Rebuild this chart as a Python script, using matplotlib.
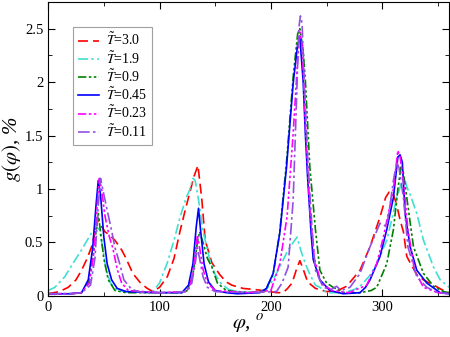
import matplotlib
matplotlib.use("Agg")
import matplotlib.pyplot as plt
from matplotlib.ticker import MultipleLocator

plt.rcParams['font.family'] = ['Liberation Serif', 'DejaVu Serif']
plt.rcParams['mathtext.fontset'] = 'stix'

labels = ["3.0", "1.9", "0.9", "0.45", "0.23", "0.11"]

phi_t30 = [0, 10, 18, 25, 30, 35, 39, 42, 45, 48, 51, 55, 60, 66, 70, 76, 83, 89, 94, 100, 107, 113, 118.5, 123, 127, 131, 134.5, 138, 141, 147, 154, 160, 165, 175, 185, 193, 205, 211, 215, 219, 223, 226, 229, 233, 240, 250, 260, 268, 280, 289, 298, 303, 306, 310, 313, 316, 319, 322, 325, 331, 337, 348, 355, 360]
g_t30 = [0.02, 0.04, 0.08, 0.15, 0.24, 0.35, 0.46, 0.6, 0.72, 0.65, 0.6, 0.57, 0.52, 0.43, 0.35, 0.21, 0.12, 0.07, 0.04, 0.08, 0.18, 0.35, 0.61, 0.8, 0.96, 1.12, 1.22, 0.9, 0.52, 0.31, 0.2, 0.13, 0.1, 0.07, 0.06, 0.05, 0.03, 0.03, 0.07, 0.12, 0.25, 0.33, 0.25, 0.13, 0.07, 0.04, 0.05, 0.09, 0.24, 0.46, 0.74, 0.92, 0.97, 0.95, 0.85, 0.71, 0.6, 0.37, 0.31, 0.2, 0.15, 0.09, 0.05, 0.03]

phi_t19 = [0, 6, 15, 22, 30, 35, 39, 43, 46, 49, 52, 56, 62, 70, 80, 90, 94, 100, 107, 113, 118.5, 124, 127, 130, 132, 135, 139, 145, 150, 155, 162, 170, 185, 196, 202, 208, 214, 220, 223.5, 227, 231, 235, 240, 244, 250, 265, 275, 280, 288, 295, 304, 310, 313, 317, 320, 322, 325, 331, 337, 346, 352, 358, 360]
g_t19 = [0.05, 0.08, 0.18, 0.3, 0.43, 0.52, 0.59, 0.65, 0.62, 0.45, 0.25, 0.12, 0.05, 0.04, 0.04, 0.03, 0.04, 0.12, 0.31, 0.52, 0.74, 0.92, 0.99, 1.1, 1.08, 0.9, 0.61, 0.34, 0.2, 0.12, 0.06, 0.04, 0.03, 0.06, 0.15, 0.27, 0.4, 0.5, 0.55, 0.42, 0.3, 0.2, 0.1, 0.08, 0.03, 0.03, 0.06, 0.09, 0.18, 0.3, 0.52, 0.78, 0.92, 1.05, 1.1, 1.02, 0.95, 0.77, 0.52, 0.27, 0.15, 0.1, 0.08]

phi_t09 = [0, 20, 30, 36, 40, 43, 45, 47, 50, 54, 60, 70, 100, 120, 125, 130, 134, 136, 139, 143, 147, 152, 160, 180, 195, 202, 208, 214, 220, 224, 226, 229, 231, 235, 240, 244, 250, 256, 265, 280, 290, 295, 304, 310, 314, 317, 319, 322, 328, 337, 346, 355, 360]
g_t09 = [0.02, 0.02, 0.03, 0.12, 0.35, 0.6, 0.77, 0.6, 0.35, 0.15, 0.05, 0.03, 0.03, 0.03, 0.05, 0.2, 0.5, 0.6, 0.5, 0.35, 0.27, 0.12, 0.05, 0.03, 0.05, 0.2, 0.6, 1.25, 2.05, 2.45, 2.5, 2.3, 2.0, 1.2, 0.62, 0.24, 0.12, 0.08, 0.03, 0.03, 0.05, 0.08, 0.3, 0.62, 1.0, 1.22, 1.15, 0.92, 0.46, 0.21, 0.09, 0.04, 0.03]

phi_t045 = [0, 20, 30, 36, 40, 43, 45, 47, 50, 53, 57, 62, 70, 100, 120, 126, 130, 133, 135, 137, 140, 144, 150, 160, 170, 190, 196, 202, 208, 214, 220, 224, 226, 229, 231, 233, 236, 238, 244, 253, 265, 280, 285, 289, 298, 304, 310, 314, 316, 318, 320.5, 325, 331, 340, 352, 360]
g_t045 = [0.02, 0.02, 0.03, 0.15, 0.45, 0.85, 1.08, 0.95, 0.55, 0.3, 0.15, 0.07, 0.04, 0.03, 0.03, 0.1, 0.3, 0.65, 0.82, 0.6, 0.3, 0.13, 0.05, 0.03, 0.02, 0.03, 0.07, 0.21, 0.59, 1.2, 1.99, 2.35, 2.42, 2.0, 1.5, 1.1, 0.6, 0.34, 0.15, 0.05, 0.02, 0.03, 0.08, 0.15, 0.37, 0.62, 0.92, 1.3, 1.32, 1.25, 0.77, 0.46, 0.24, 0.12, 0.03, 0.02]

phi_t023 = [0, 20, 30, 37, 41, 44, 46, 48, 51, 55, 58, 62, 66, 72, 100, 124, 128, 131, 134, 136, 139, 143, 150, 180, 200, 208, 214.5, 220, 224, 226, 228, 231, 235, 239, 245, 255, 270, 286, 295, 301, 310, 314, 316, 319, 323, 329, 337, 350, 360]
g_t023 = [0.02, 0.02, 0.03, 0.12, 0.4, 0.85, 1.1, 1.0, 0.75, 0.55, 0.45, 0.25, 0.12, 0.05, 0.03, 0.04, 0.12, 0.3, 0.57, 0.45, 0.25, 0.12, 0.05, 0.03, 0.05, 0.3, 0.74, 1.52, 2.2, 2.47, 2.35, 1.6, 0.8, 0.35, 0.12, 0.05, 0.03, 0.1, 0.3, 0.55, 1.0, 1.36, 1.3, 1.08, 0.62, 0.24, 0.08, 0.03, 0.02]

phi_t011 = [0, 20, 30, 38, 42, 45, 47, 49, 52, 57, 60, 64, 68, 75, 85, 100, 125, 129, 132, 134, 136, 139, 143, 150, 180, 205, 210, 215.5, 220, 223, 225, 226.5, 228, 230, 233, 237, 240, 247, 254, 259, 263, 271, 280, 289, 298, 304, 307, 310, 313, 315, 319, 323, 331, 340, 350, 360]
g_t011 = [0.02, 0.02, 0.03, 0.1, 0.35, 0.85, 1.1, 1.0, 0.85, 0.61, 0.45, 0.31, 0.15, 0.06, 0.03, 0.03, 0.04, 0.12, 0.3, 0.45, 0.35, 0.18, 0.08, 0.04, 0.03, 0.04, 0.12, 0.27, 0.9, 1.83, 2.5, 2.62, 2.55, 2.0, 1.3, 0.62, 0.24, 0.08, 0.06, 0.09, 0.05, 0.08, 0.21, 0.46, 0.68, 0.65, 0.85, 1.08, 1.25, 1.2, 0.92, 0.46, 0.18, 0.08, 0.03, 0.02]

series = [
    (phi_t30, g_t30, '#ff0000', (0, (6, 3))),
    (phi_t19, g_t19, '#40e0d0', (0, (6, 2, 1.5, 2))),
    (phi_t09, g_t09, '#008000', (0, (5, 1.5, 1.5, 1.5, 1.5, 1.5))),
    (phi_t045, g_t045, '#0000ff', '-'),
    (phi_t023, g_t023, '#ff00ff', (0, (5, 1.5, 1.5, 1.5, 1.5, 1.5))),
    (phi_t011, g_t011, '#9050e0', (0, (7, 2, 1.5, 2))),
]

fig = plt.figure(figsize=(4.5, 3.37), dpi=100)
ax = fig.add_axes([0.107, 0.122, 0.891, 0.872])

for (x, y, c, ls), lab in zip(series, labels):
    ax.plot(x, y, color=c, linestyle=ls, linewidth=1.2, label=r'$\tilde{T}$=' + lab)

ax.set_xlim(0, 360)
ax.set_ylim(0, 2.75)
ax.xaxis.set_major_locator(MultipleLocator(100))
ax.xaxis.set_minor_locator(MultipleLocator(50))
ax.yaxis.set_minor_locator(MultipleLocator(0.25))
ax.set_yticks([0, 0.5, 1, 1.5, 2, 2.5])
ax.set_yticklabels(['0', '0.5', '1', '1.5', '2', '2.5'])
ax.tick_params(which='both', direction='in', top=True, right=True, labelsize=10.5)
ax.tick_params(which='major', length=5)
ax.tick_params(which='minor', length=3)

ax.set_xlabel(r'$\varphi$, $^{o}$', fontsize=15, style='italic', labelpad=-1)
ax.set_ylabel(r'$g(\varphi)$, %', fontsize=15, style='italic', labelpad=1)

leg = ax.legend(loc='upper left', bbox_to_anchor=(0.062, 0.915), fontsize=10,
                frameon=True, fancybox=False, edgecolor='#888888',
                handlelength=1.5, handletextpad=0.5, labelspacing=0.12,
                borderpad=0.35, borderaxespad=0)
leg.get_frame().set_linewidth(0.8)

fig.savefig('out.png', dpi=100)
